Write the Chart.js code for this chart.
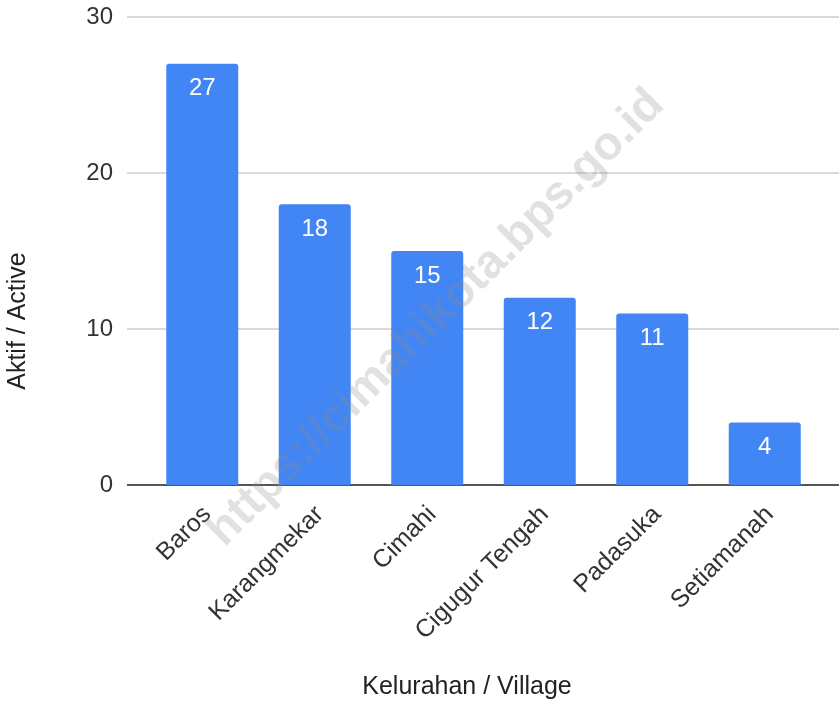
<!DOCTYPE html>
<html>
<head>
<meta charset="utf-8">
<script src="https://cdn.jsdelivr.net/npm/chart.js@4/dist/chart.umd.min.js"></script>
<style>
  html, body { margin: 0; padding: 0; background: #fff; }
  #wrap { width: 839px; height: 702px; }
</style>
</head>
<body>
<div id="wrap"><canvas id="barChart"></canvas></div>
<script>
// Active count per village
var villages = ['Baros', 'Karangmekar', 'Cimahi', 'Cigugur Tengah', 'Padasuka', 'Setiamanah'];
var activeCounts = [27, 18, 15, 12, 11, 4];
var yTicks = [0, 10, 20, 30];
var xTitle = 'Kelurahan / Village';
var yTitle = 'Aktif / Active';

var FONT = 'Arial, "Liberation Sans", sans-serif';

// grid lines reach past the plot area, like the original
var gridPlugin = {
    id: 'wideGrid',
    beforeDatasetsDraw: function (chart) {
        var ctx = chart.ctx, y = chart.scales.y;
        ctx.save();
        yTicks.forEach(function (v) {
            var py = Math.round(y.getPixelForValue(v));
            ctx.beginPath();
            if (v === 0) {
                ctx.strokeStyle = '#555555';
                ctx.lineWidth = 2;
            } else {
                ctx.strokeStyle = '#cccccc';
                ctx.lineWidth = 1.5;
            }
            ctx.moveTo(127, py);
            ctx.lineTo(chart.width, py);
            ctx.stroke();
        });
        ctx.restore();
    }
};

// value labels inside top of bars + axis titles
var labelPlugin = {
    id: 'valueLabels',
    afterDatasetsDraw: function (chart) {
        var ctx = chart.ctx;
        var meta = chart.getDatasetMeta(0);
        ctx.save();
        ctx.fillStyle = '#ffffff';
        ctx.font = '24px ' + FONT;
        ctx.textAlign = 'center';
        ctx.textBaseline = 'middle';
        meta.data.forEach(function (bar, i) {
            ctx.fillText(String(activeCounts[i]), bar.x, bar.y + 25);
        });

        ctx.fillStyle = '#222222';
        ctx.font = '25px ' + FONT;
        ctx.fillText(xTitle, 467, 687);
        ctx.translate(18, 321);
        ctx.rotate(-Math.PI / 2);
        ctx.fillText(yTitle, 0, 0);
        ctx.restore();
    }
};

var watermarkPlugin = {
    id: 'watermark',
    afterDraw: function (chart) {
        var ctx = chart.ctx;
        ctx.save();
        ctx.translate(436, 318);
        ctx.rotate(-Math.PI / 4);
        ctx.font = 'bold 47px ' + FONT;
        ctx.fillStyle = 'rgba(140, 140, 140, 0.26)';
        ctx.textAlign = 'center';
        ctx.textBaseline = 'middle';
        ctx.fillText('https://cimahikota.bps.go.id', 0, 0);
        ctx.restore();
    }
};

var ctx = document.getElementById('barChart').getContext('2d');
var barChart = new Chart(ctx, {
    type: 'bar',
    data: {
        labels: villages,
        datasets: [{
            label: yTitle,
            data: activeCounts,
            backgroundColor: '#4285F4',
            borderRadius: { topLeft: 3, topRight: 3 },
            borderSkipped: 'bottom',
            barPercentage: 0.64,
            categoryPercentage: 1.0
        }]
    },
    options: {
        responsive: true,
        maintainAspectRatio: false,
        animation: false,
        layout: { padding: { top: 17, right: 18, left: 0, bottom: 0 } },
        plugins: {
            legend: { display: false },
            tooltip: { enabled: false }
        },
        scales: {
            x: {
                grid: { display: false, drawTicks: false },
                border: { display: false },
                ticks: {
                    color: '#333333',
                    font: { family: FONT, size: 25 },
                    minRotation: 45,
                    maxRotation: 45,
                    padding: 15,
                    labelOffset: 5
                },
                afterFit: function (scale) {
                    scale.height = 217;
                    scale.paddingTop = 0; scale.paddingBottom = 0;
                    scale.paddingLeft = 0; scale.paddingRight = 0;
                }
            },
            y: {
                min: 0,
                max: 30,
                grid: { display: false, drawTicks: false },
                border: { display: false },
                ticks: {
                    stepSize: 10,
                    color: '#333333',
                    font: { family: FONT, size: 24 },
                    padding: 33
                },
                afterFit: function (scale) {
                    scale.width = 146;
                    scale.paddingTop = 0; scale.paddingBottom = 0;
                    scale.paddingLeft = 0; scale.paddingRight = 0;
                }
            }
        }
    },
    plugins: [gridPlugin, labelPlugin, watermarkPlugin]
});
</script>
</body>
</html>
